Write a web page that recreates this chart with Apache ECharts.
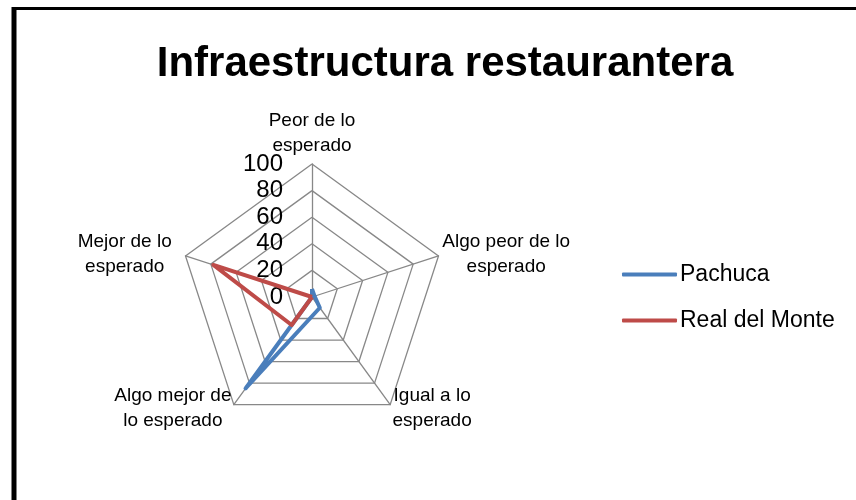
<!DOCTYPE html>
<html><head><meta charset="utf-8">
<script src="https://cdn.jsdelivr.net/npm/echarts@6/dist/echarts.min.js"></script>
<style>html,body{margin:0;padding:0;background:#fff}#c{width:856px;height:500px}</style>
</head><body><div id="c"></div>
<script>
const indicators = ['Peor de lo\nesperado', 'Algo peor de lo\nesperado', 'Igual a lo\nesperado', 'Algo mejor de\nlo esperado', 'Mejor de lo\nesperado'];
const seriesNames = ['Pachuca', 'Real del Monte'];
const pachuca = [6, 2, 10, 85, 0];
const realDelMonte = [0, 0, 0, 26, 78];
const axisMax = 100;
const tickInterval = 20;

// ECharts lays radar indicators counter-clockwise; reorder so they run clockwise like the original.
const order = [0, 4, 3, 2, 1];
const reorder = arr => order.map(i => arr[i]);

const font = 'Liberation Sans';
const nameStyle = { align: 'center', color: '#000', fontFamily: font, fontSize: 19, lineHeight: 25 };
const chart = echarts.init(document.getElementById('c'));
chart.setOption({
  backgroundColor: '#fff',
  animation: false,
  title: {
    text: 'Infraestructura restaurantera',
    left: 440, top: 38, textAlign: 'center',
    textStyle: { fontFamily: font, fontWeight: 'bold', fontSize: 42, color: '#000' }
  },
  legend: {
    orient: 'vertical', left: 617, top: 258, itemWidth: 55, itemHeight: 4, itemGap: 23,
    icon: 'roundRect',
    textStyle: { fontFamily: font, fontSize: 23, color: '#000', padding: [0,0,0,-2] },
    data: seriesNames
  },
  radar: {
    center: [312, 297], radius: 133, startAngle: 90, splitNumber: 5, shape: 'polygon',
    indicator: reorder(indicators).map(n => ({ name: n, min: 0, max: axisMax })),
    axisName: {
      formatter: (v, ind) => {
        const n = ind && ind.name;
        const key = n === indicators[4] ? 'l' : (n === indicators[0] ? 't' : 'c');
        return v.split('\n').map(s => '{' + key + '|' + s + '}').join('\n');
      },
      rich: {
        c: nameStyle,
        l: Object.assign({}, nameStyle, { padding: [0, 10, 0, 0] }),
        t: Object.assign({}, nameStyle, { padding: [0, 0, 3, 0] })
      }
    },
    nameGap: 4,
    splitLine: { lineStyle: { color: '#888', width: 1.3 } },
    splitArea: { show: false },
    axisLine: { lineStyle: { color: '#888', width: 1.3 } }
  },
  polar: { center: [312, 297], radius: 133 },
  angleAxis: { show: false, startAngle: 90, min: 0, max: 360 },
  radiusAxis: {
    min: 0, max: axisMax, interval: tickInterval,
    axisLine: { show: false }, axisTick: { show: false }, splitLine: { show: false },
    axisLabel: { fontFamily: font, fontSize: 24, color: '#000', margin: 29, padding: [4, 0, 0, 0] }
  },
  series: [{
    type: 'radar',
    symbol: 'none',
    data: [
      { name: seriesNames[0], value: reorder(pachuca), lineStyle: { color: '#4A7EBB', width: 4 }, itemStyle: { color: '#4A7EBB' } },
      { name: seriesNames[1], value: reorder(realDelMonte), lineStyle: { color: '#BE4B48', width: 4 }, itemStyle: { color: '#BE4B48' } }
    ]
  }],
  graphic: [
    { type: 'line', shape: { x1: 14, y1: 7, x2: 14, y2: 500 }, style: { stroke: '#000', lineWidth: 5 } },
    { type: 'line', shape: { x1: 12, y1: 8.5, x2: 856, y2: 8.5 }, style: { stroke: '#000', lineWidth: 3 } }
  ]
});
</script></body></html>
